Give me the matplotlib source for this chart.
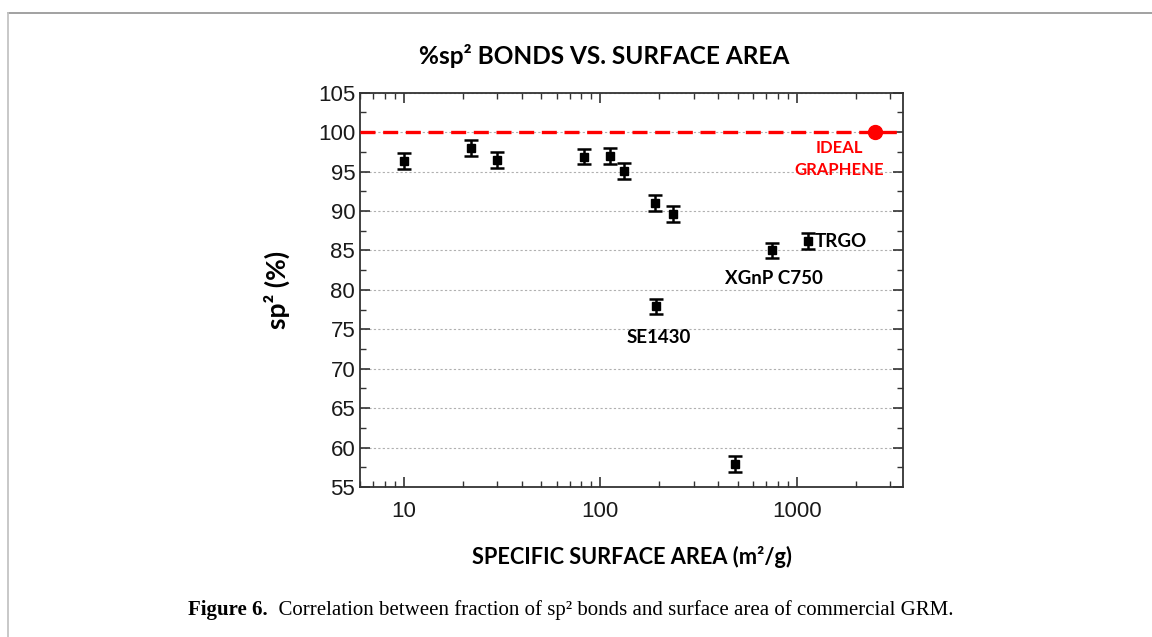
import numpy as np
import matplotlib.pyplot as plt
from matplotlib.lines import Line2D

# specific surface area (m2/g) and sp2 fraction (%)
area = [10, 22, 30, 83, 112, 132, 189, 234, 193, 484, 745, 1148]
sp2 = [96.3, 98.0, 96.5, 96.9, 97.0, 95.1, 91.0, 89.6, 77.9, 57.9, 85.0, 86.2]
sp2_err = [1.0, 1.0, 1.0, 1.0, 1.0, 1.0, 1.0, 1.0, 1.0, 1.0, 1.0, 1.0]

ideal_area = 2500
ideal_sp2 = 100

labels = ["SE1430", "XGnP C750", "TRGO"]
label_area = [193, 745, 1148]
label_sp2 = [77.9, 85.0, 86.2]

yticks = [55, 60, 65, 70, 75, 80, 85, 90, 95, 100, 105]

lab_font = "Lato"

fig = plt.figure(figsize=(11.52, 6.37), dpi=100)
ax = fig.add_axes([0.3125, 0.2355, 0.4715, 0.619])

ax.errorbar(area, sp2, yerr=sp2_err, fmt="s", color="black", ms=5.5,
            elinewidth=1.8, capsize=5, capthick=1.8, zorder=4)
ax.axhline(ideal_sp2, color="red", lw=2.4, dashes=(4.5, 2.3), zorder=3)
ax.plot([ideal_area], [ideal_sp2], "o", color="red", ms=10, zorder=5)

ax.set_xscale("log")
ax.set_xlim(6, 3480)
ax.set_ylim(55, 105)
ax.set_yticks(yticks)
ax.set_yticks(np.arange(57.5, 105, 5), minor=True)
ax.set_xticks([10, 100, 1000])
ax.set_xticklabels(["10", "100", "1000"])
ax.yaxis.grid(True, which="major", color="#b0b0b0", ls=(0, (2, 2)), lw=0.8)
ax.set_axisbelow(True)

ax.tick_params(which="both", direction="in", top=True, right=True,
               labelsize=16, color="#333333")
ax.tick_params(which="major", length=7, width=1.2)
ax.tick_params(which="minor", length=4, width=1.0)
for lab in ax.get_xticklabels() + ax.get_yticklabels():
    lab.set_fontfamily("Liberation Sans")
    lab.set_color("#1a1a1a")
ax.tick_params(axis="x", pad=10)
for s in ax.spines.values():
    s.set_linewidth(1.3)
    s.set_color("#333333")

ax.set_xlabel("SPECIFIC SURFACE AREA (m²/g)", fontfamily=lab_font, fontweight="bold",
              fontsize=15.7, labelpad=17)
ax.set_ylabel("sp² (%)", fontfamily=lab_font, fontweight="bold", fontsize=19, labelpad=20)
fig.text(604 / 1152, 1 - 56 / 637, "%sp² BONDS VS. SURFACE AREA", fontfamily=lab_font,
         fontweight="bold", fontsize=17.6, ha="center", va="center")

ax.text(1650, 96.6, "IDEAL\nGRAPHENE", color="red", fontfamily=lab_font,
        fontweight="bold", fontsize=12, ha="center", va="center", linespacing=1.4)
ax.text(label_area[0] * 1.03, label_sp2[0] - 3.9, labels[0], fontfamily=lab_font,
        fontweight="bold", fontsize=13.5, ha="center", va="center")
ax.text(label_area[1] * 1.03, label_sp2[1] - 3.5, labels[1], fontfamily=lab_font,
        fontweight="bold", fontsize=13.5, ha="center", va="center")
ax.text(label_area[2] * 1.07, label_sp2[2] - 0.1, labels[2], fontfamily=lab_font,
        fontweight="bold", fontsize=13.5, ha="left", va="center")

# page frame and caption
fig.add_artist(Line2D([8 / 1152, 1], [1 - 13 / 637, 1 - 13 / 637], color="#9a9a9a", lw=1.3))
fig.add_artist(Line2D([8 / 1152, 8 / 1152], [0, 1 - 13 / 637], color="#c4c4c4", lw=1.3))

t1 = fig.text(188 / 1152, 1 - 610 / 637, "Figure 6.", fontfamily="Liberation Serif",
              fontweight="bold", fontsize=15, va="center")
ax.annotate("  Correlation between fraction of sp² bonds and surface area of commercial GRM.",
            xy=(1, 0), xycoords=t1, va="bottom", ha="left",
            fontfamily="Liberation Serif", fontsize=15, annotation_clip=False)

fig.savefig("out.png", dpi=100)
